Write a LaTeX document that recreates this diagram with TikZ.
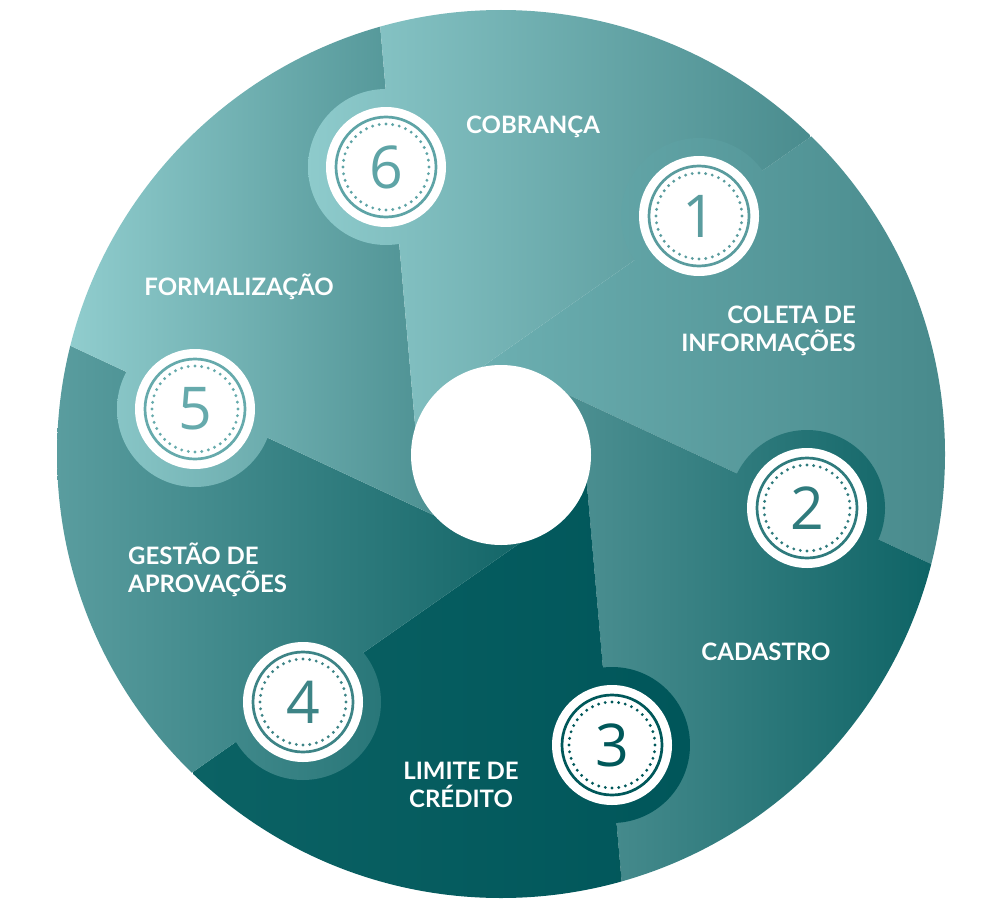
\documentclass[tikz,border=0pt]{standalone}
\usepackage{fontspec}
\setmainfont{Lato}
\newfontfamily\digits{Open Sans}
\usetikzlibrary{calc}

\definecolor{oneL}{HTML}{72B5B7}   \definecolor{oneR}{HTML}{488A8C}
\definecolor{twoL}{HTML}{68A3A5}   \definecolor{twoR}{HTML}{0C6264}
\definecolor{threeL}{HTML}{0B6264} \definecolor{threeR}{HTML}{00565A}
\definecolor{fourL}{HTML}{5A9D9F}  \definecolor{fourR}{HTML}{095E60}
\definecolor{fiveL}{HTML}{93CFD0}  \definecolor{fiveR}{HTML}{307779}
\definecolor{sixL}{HTML}{8ECBCC}   \definecolor{sixR}{HTML}{4A8C8E}

\definecolor{numA}{HTML}{5A9C9E} \definecolor{numB}{HTML}{2F7B7D}
\definecolor{numC}{HTML}{00585A} \definecolor{numD}{HTML}{3D8486}
\definecolor{numE}{HTML}{66AAAC} \definecolor{numF}{HTML}{5EA4A6}

\tikzset{
  badge/.style={circle, fill=white, minimum size=120pt, inner sep=0pt,
    font=\digits\fontsize{59}{59}\selectfont},
  steptext/.style={text=white, inner sep=0pt,
    font=\fontsize{24}{28.5}\selectfont\bfseries},
}

% sector number / shading range / colours
\def\sectors{1/411/945/oneL/oneR, 2/411/945/twoL/twoR, 3/193/690/threeL/threeR,
  4/56/591/fourL/fourR, 5/56/591/fiveL/fiveR, 6/307/810/sixL/sixR}

\begin{document}
\begin{tikzpicture}[x=1pt, y=-1pt]
    \useasboundingbox (0,0) rectangle (1000,912);

    \coordinate (c) at (501,455);
    \coordinate (rim) at (501,454);
    \coordinate (p1) at (699,216);
    \coordinate (p2) at (807,508);
    \coordinate (p3) at (612,745);
    \coordinate (p4) at (303,702);
    \coordinate (p5) at (195,409);
    \coordinate (p6) at (386,167);

    % blades between two lines tangent to the hub
    \foreach \j/\x/\X/\cl/\cr in \sectors {
        \pgfmathtruncatemacro\k{mod(\j,6)+1}
        \pgfmathsetmacro\pa{-95+60*\j}
        \pgfmathsetmacro\pb{-95+60*\k}
        \begin{scope}
            \clip (rim) circle (444);
            \clip (c) -- ($(c)+(\pa-90:83)$) -- ($(c)+(\pa-90:83)+(\pa:700)$)
                -- ($(c)+(\pb-90:83)+(\pb:700)$) -- ($(c)+(\pb-90:83)$) -- cycle;
            \shade[left color=\cl, right color=\cr] (\x,0) rectangle (\X,912);
        \end{scope}
    }

    % halos
    \foreach \j/\x/\X/\cl/\cr in \sectors {
        \begin{scope}
            \clip (p\j) circle (78);
            \shade[left color=\cl, right color=\cr] (\x,0) rectangle (\X,912);
        \end{scope}
    }

    \node[circle, fill=white, minimum size=180pt, inner sep=0pt] (hub) at (c) {};

    % badges
    \foreach \j/\col in {1/numA, 2/numB, 3/numC, 4/numD, 5/numE, 6/numF} {
        \node[badge, text=\col] (b\j) at (p\j) {\j};
        \draw[\col, line width=2.7] (b\j.center) circle (50);
        \draw[\col, line width=3.2, line cap=round, dash pattern=on 0pt off 6.75pt]
            (b\j.center) circle (43);
    }

    \node[steptext] (cobranca) at (533,127) {COBRANÇA};
    \node[steptext, anchor=east, align=right] (coleta) at (856,331) {COLETA DE\\INFORMAÇÕES};
    \node[steptext] (cadastro) at (766,652) {CADASTRO};
    \node[steptext, align=center] (limite) at (461,785) {LIMITE DE\\CRÉDITO};
    \node[steptext, anchor=west, align=left] (gestao) at (128,570) {GESTÃO DE\\APROVAÇÕES};
    \node[steptext] (formal) at (239,287) {FORMALIZAÇÃO};
\end{tikzpicture}
\end{document}
